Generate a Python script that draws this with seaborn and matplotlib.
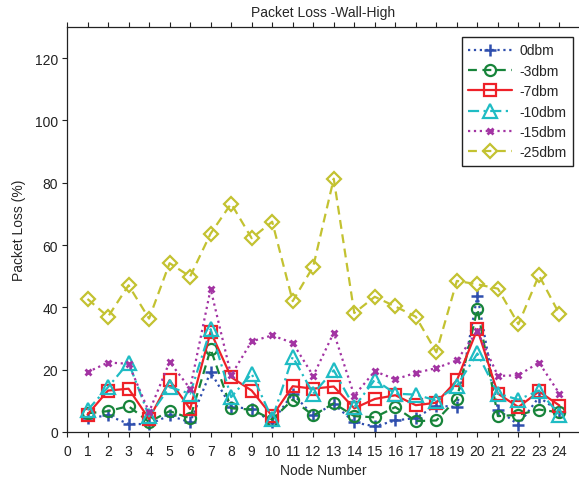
import matplotlib
matplotlib.use("Agg")
import matplotlib.pyplot as plt
import seaborn as sns
import pandas as pd

nodes = list(range(1, 25))

loss_0dbm = [4.5, 5.3, 2.6, 2.5, 5.3, 3.1, 19.3, 8.1, 7.4, 3.2, 12.3, 5.3,
             9.0, 3.1, 1.8, 3.7, 4.5, 8.5, 8.0, 43.8, 7.2, 2.3, 11.2, 6.5]
loss_m3dbm = [6.0, 6.7, 8.3, 3.2, 6.7, 4.4, 26.6, 7.6, 7.2, 4.0, 10.4, 5.3,
              9.2, 5.1, 4.7, 8.0, 3.5, 3.7, 10.6, 39.5, 5.1, 5.5, 7.2, 6.3]
loss_m7dbm = [5.6, 13.3, 13.9, 4.2, 16.6, 7.4, 32.2, 17.6, 13.3, 5.1, 14.7, 13.9,
              14.6, 7.6, 10.6, 11.8, 8.6, 9.4, 16.6, 33.0, 12.3, 8.0, 13.0, 8.5]
loss_m10dbm = [7.0, 14.4, 22.3, 5.0, 14.4, 12.3, 33.0, 11.2, 18.7, 4.2, 24.1, 12.3,
               19.8, 8.0, 16.8, 12.3, 12.0, 10.1, 14.9, 25.2, 12.3, 10.4, 13.3, 5.5]
loss_m15dbm = [19.2, 22.3, 21.9, 6.4, 22.5, 13.9, 45.9, 18.2, 29.1, 31.0, 28.6, 18.0,
               31.9, 11.7, 19.5, 16.9, 19.0, 20.5, 23.0, 32.4, 18.0, 18.2, 22.3, 12.3]
loss_m25dbm = [42.7, 37.0, 47.1, 36.4, 54.2, 49.9, 63.7, 73.3, 62.2, 67.5, 42.0, 53.1,
               81.3, 38.2, 43.4, 40.3, 37.0, 25.6, 48.5, 47.4, 46.0, 34.6, 50.3, 37.8]

series_labels = ["0dbm", "-3dbm", "-7dbm", "-10dbm", "-15dbm", "-25dbm"]
series_values = [loss_0dbm, loss_m3dbm, loss_m7dbm, loss_m10dbm, loss_m15dbm, loss_m25dbm]

x_ticks = list(range(0, 25))
y_ticks = [0, 20, 40, 60, 80, 100, 120]

sns.set_style("ticks")
plt.rcParams["font.family"] = ["Liberation Sans", "DejaVu Sans"]

styles = {
    "0dbm":   dict(color="#2f4fae", marker="+", linestyle=":", ms=9, mew=1.8),
    "-3dbm":  dict(color="#17843a", marker="o", linestyle=(0, (4, 2.5)), ms=8, mew=1.6, mfc="none"),
    "-7dbm":  dict(color="#ee2128", marker="s", linestyle="-", ms=8.5, mew=1.6, mfc="none"),
    "-10dbm": dict(color="#1fbcc4", marker="^", linestyle=(0, (5, 2, 1, 2)), ms=9.5, mew=1.6, mfc="none"),
    "-15dbm": dict(color="#a334a3", marker="x", linestyle=":", ms=4.5, mew=2.0),
    "-25dbm": dict(color="#c3c231", marker="D", linestyle=(0, (4, 2.5)), ms=7.5, mew=1.6, mfc="none"),
}

fig = plt.figure(figsize=(5.79, 4.81), dpi=100)
ax = fig.add_axes([0.1157, 0.0998, 0.886, 0.842])

for label, values in zip(series_labels, series_values):
    df = pd.DataFrame({"Node": nodes, "Loss": values})
    st = styles[label]
    sns.lineplot(data=df, x="Node", y="Loss", ax=ax, label=label,
                 color=st["color"], marker=st["marker"], linestyle=st["linestyle"],
                 markersize=st["ms"], markeredgewidth=st["mew"],
                 markerfacecolor=st.get("mfc", st["color"]),
                 markeredgecolor=st["color"], linewidth=1.6)

ax.set_xlim(0, 25)
ax.set_ylim(0, 130)
ax.set_xticks(x_ticks)
ax.set_yticks(y_ticks)
ax.tick_params(axis="both", direction="out", length=3.5, width=0.8, labelsize=10,
               colors="#222222", top=True)
ax.tick_params(axis="x", pad=5)
ax.tick_params(axis="y", pad=3)
for side in ["left", "bottom", "top", "right"]:
    ax.spines[side].set_visible(True)
    ax.spines[side].set_linewidth(0.9)
    ax.spines[side].set_color("#222222")

ax.set_title("Packet Loss -Wall-High", fontsize=10, pad=8)
ax.set_xlabel("Node Number", fontsize=10, labelpad=4)
ax.set_ylabel("Packet Loss (%)", fontsize=10, labelpad=6)

leg = ax.legend(loc="upper right", bbox_to_anchor=(0.986, 0.975), borderaxespad=0,
                fontsize=10, frameon=True, fancybox=False, edgecolor="#222222",
                framealpha=1, handlelength=3.2, labelspacing=0.46, borderpad=0.45,
                handletextpad=0.5)
leg.get_frame().set_linewidth(1.0)

fig.savefig("out.png", dpi=100)
